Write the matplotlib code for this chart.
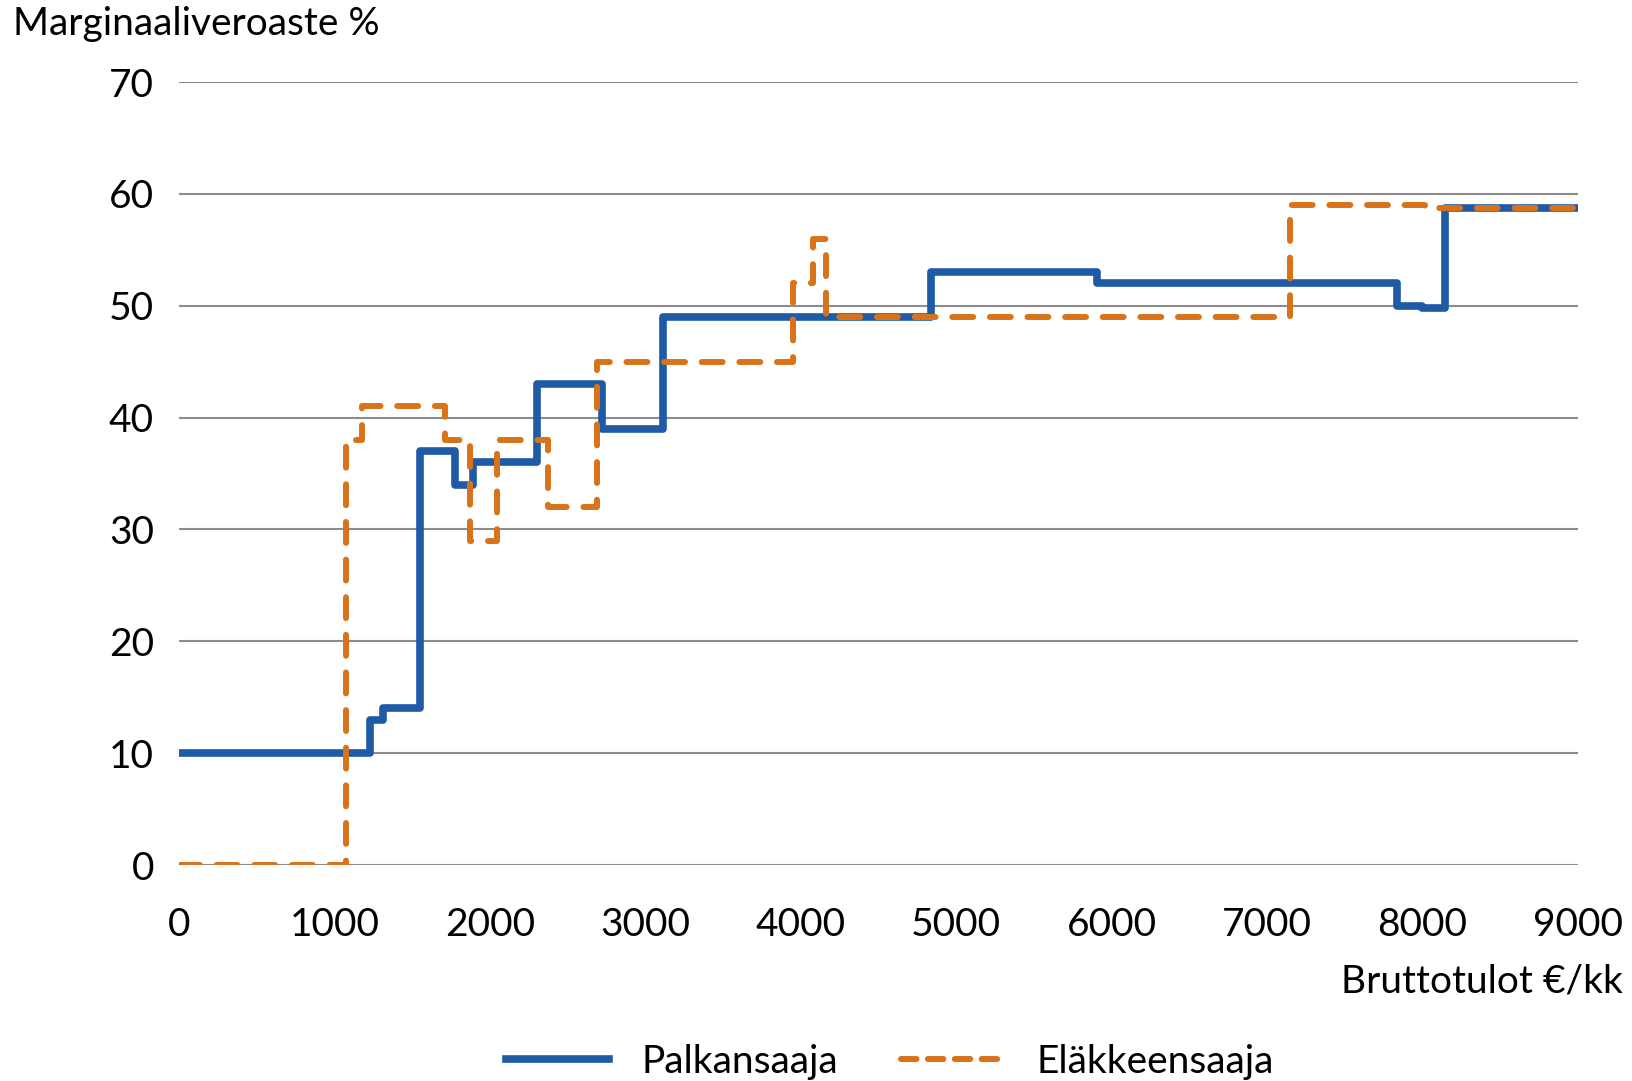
import numpy as np
import matplotlib
matplotlib.use('Agg')
import matplotlib.pyplot as plt

plt.rcParams['font.family'] = ['Lato', 'DejaVu Sans']

# Palkansaaja (wage earner) steps
palk_x = [0, 1230, 1313, 1551, 1776, 1894, 2306, 2720, 3116, 4836, 5905, 7835, 7996, 8146, 9000]
palk_y = [10, 13, 14, 37, 34, 36, 43, 39, 49, 53, 52, 50, 49.8, 58.7, 58.7]

# Eläkkeensaaja (pensioner) steps
elak_x = [0, 1075, 1176, 1712, 1873, 2044, 2377, 2688, 3949, 4082, 4163, 7145, 8018, 9000]
elak_y = [0, 38, 41, 38, 29, 38, 32, 45, 52, 56, 49, 59, 58.7, 58.7]

x_ticks = [0, 1000, 2000, 3000, 4000, 5000, 6000, 7000, 8000, 9000]
y_ticks = [0, 10, 20, 30, 40, 50, 60, 70]

fig = plt.figure(figsize=(16.33, 10.81), dpi=100)
ax = fig.add_axes([0.1096, 0.1998, 0.8567, 0.7243])

for y in y_ticks:
    ax.axhline(y, color='#8c8c8c', lw=1.5, zorder=1)

ax.step(palk_x, palk_y, where='post', color='#1f5aa6', lw=5.5, label='Palkansaaja', zorder=3)
ax.step(elak_x, elak_y, where='post', color='#d9731a', lw=4.3, dashes=(3.5, 2.8),
        dash_capstyle='round', label='Eläkkeensaaja', zorder=4)

ax.set_xlim(0, 9000)
ax.set_ylim(0, 70)
ax.set_xticks(x_ticks)
ax.set_yticks(y_ticks)
ax.tick_params(length=0, labelsize=28)
ax.tick_params(axis='x', pad=30)
ax.tick_params(axis='y', pad=18)
for s in ax.spines.values():
    s.set_visible(False)

fig.text(0.008, 0.978, 'Marginaaliveroaste %', fontsize=28, va='center', ha='left')
fig.text(0.994, 0.092, 'Bruttotulot €/kk', fontsize=28, va='center', ha='right')

leg = fig.legend(loc='center', bbox_to_anchor=(0.545, 0.018), ncol=2, frameon=False,
                 fontsize=28, handlelength=2.65, columnspacing=1.6, handletextpad=0.85)
leg.get_lines()[1].set_dashes((2.6, 1.9))

fig.savefig('out.png', dpi=100)
